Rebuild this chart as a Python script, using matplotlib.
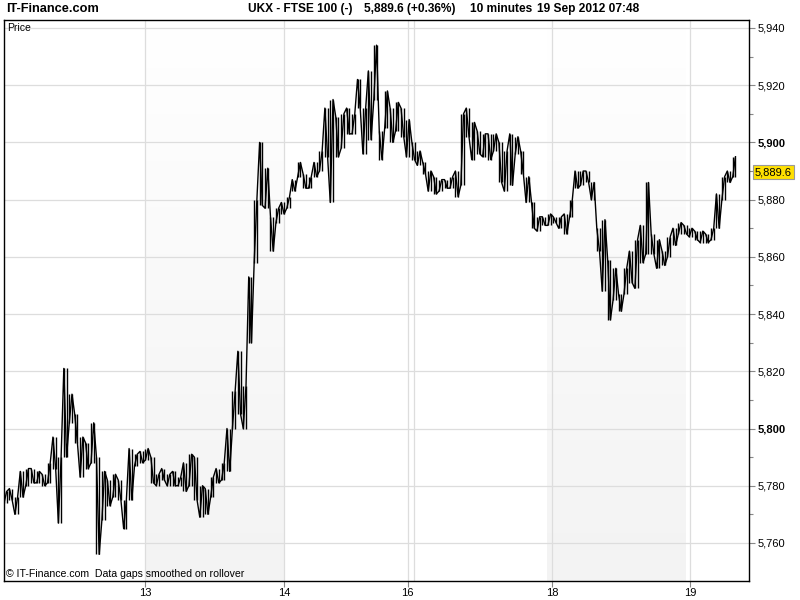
import matplotlib
matplotlib.use("Agg")
import matplotlib.pyplot as plt
import numpy as np
from matplotlib.colors import LinearSegmentedColormap
import matplotlib.transforms as mtransforms

# ---------------- data ----------------
# Each reading covers two 10-minute bars: high / low of that span
highs = [5778, 5779, 5776, 5785, 5786, 5786, 5785, 5784, 5788, 5797,
         5790, 5821, 5812, 5805, 5797, 5795, 5802, 5790, 5785, 5782,
         5784, 5782, 5775, 5793, 5791, 5792, 5793, 5790, 5784, 5786,
         5784, 5785, 5783, 5788, 5791, 5790, 5780, 5779, 5783, 5786,
         5788, 5800, 5813, 5827, 5815, 5853, 5880, 5900, 5891, 5874,
         5877, 5879, 5881, 5887, 5893, 5889, 5888, 5893, 5897, 5912,
         5915, 5909, 5910, 5912, 5910, 5922, 5912, 5925, 5934, 5904,
         5918, 5912, 5914, 5912, 5908, 5900, 5897, 5893, 5890, 5888,
         5887, 5887, 5888, 5890, 5910, 5912, 5907, 5904, 5903, 5903,
         5903, 5900, 5897, 5903, 5902, 5897, 5888, 5879, 5874, 5874,
         5875, 5874, 5874, 5875, 5880, 5890, 5890, 5890, 5886, 5870,
         5873, 5859, 5856, 5847, 5856, 5862, 5866, 5871, 5886, 5868,
         5866, 5862, 5867, 5870, 5872, 5871, 5870, 5869, 5869, 5868,
         5870, 5882, 5888, 5890, 5895]
lows = [5774, 5775, 5770, 5776, 5780, 5781, 5781, 5780, 5781, 5786,
        5767, 5790, 5802, 5795, 5783, 5786, 5788, 5756, 5768, 5773,
        5776, 5775, 5765, 5775, 5787, 5788, 5789, 5781, 5780, 5782,
        5780, 5780, 5780, 5778, 5780, 5775, 5769, 5770, 5776, 5781,
        5782, 5785, 5800, 5805, 5800, 5830, 5858, 5878, 5877, 5862,
        5872, 5875, 5877, 5883, 5888, 5884, 5884, 5888, 5890, 5895,
        5879, 5895, 5898, 5903, 5903, 5912, 5896, 5901, 5915, 5894,
        5905, 5900, 5904, 5902, 5895, 5894, 5892, 5889, 5883, 5882,
        5883, 5884, 5884, 5881, 5885, 5902, 5894, 5896, 5895, 5894,
        5897, 5886, 5883, 5885, 5896, 5889, 5879, 5870, 5869, 5871,
        5871, 5872, 5870, 5868, 5874, 5884, 5885, 5886, 5880, 5862,
        5848, 5838, 5845, 5841, 5847, 5851, 5849, 5858, 5861, 5861,
        5856, 5857, 5860, 5864, 5868, 5868, 5867, 5866, 5865, 5865,
        5866, 5870, 5880, 5886, 5888]
bars_per_reading = 2

# x-axis: positions in 10-minute bars from the start of the chart
day_ticks = [51.8, 102.9, 148.5, 201.5, 252.2]
day_labels = ["13", "14", "16", "18", "19"]
extra_day_lines = [150.7]
shaded_spans = [(51.8, 102.6), (199.6, 250.4)]
x_range = (0.0, 273.9)

y_ticks = [5760, 5780, 5800, 5820, 5840, 5860, 5880, 5900, 5920, 5940]
bold_ticks = [5800, 5900]
y_range = (5746.7, 5942.8)
last_price = 5889.6

site = "IT-Finance.com"
title_parts = ["UKX - FTSE 100 (-)", "5,889.6 (+0.36%)", "10 minutes", "19 Sep 2012 07:48"]
title_px = [248, 364, 470, 537]
footer = "\u00a9 IT-Finance.com  Data gaps smoothed on rollover"
panel_label = "Price"

base = "Liberation Sans"

# ---------------- figure ----------------
fig = plt.figure(figsize=(8, 6), dpi=100)
fig.patch.set_facecolor("white")
ax = fig.add_axes([0.005, 0.0317, 0.931, 0.935])

# day shading (vertical gradient: white at top, light grey at bottom)
grad = np.linspace(0, 1, 256).reshape(-1, 1)
cmap = LinearSegmentedColormap.from_list("band", ["#ffffff", "#f3f3f3"])
for x0, x1 in shaded_spans:
    ax.imshow(grad, extent=[x0, x1, y_range[0], y_range[1]], origin="upper",
              aspect="auto", cmap=cmap, zorder=0, interpolation="bilinear")

# grid
for v in y_ticks:
    ax.axhline(v, color="#dddddd", lw=0.9, zorder=1)
for v in day_ticks + extra_day_lines:
    ax.axvline(v, color="#dddddd", lw=0.9, zorder=1)

# price bars: each 10-minute bar of a span drawn high-low, joined by a zig-zag
bx, bl, bh = [], [], []
xs, ys = [], []
for k, (h, l) in enumerate(zip(highs, lows)):
    x0 = k * bars_per_reading
    for j in range(bars_per_reading):
        bx.append(x0 + j)
        bl.append(l)
        bh.append(h)
    if k % 2 == 0:
        xs += [x0, x0 + 1]
        ys += [l, h]
    else:
        xs += [x0, x0 + 1]
        ys += [h, l]
ax.vlines(bx, bl, bh, color="black", lw=1.0, zorder=3)
ax.plot(xs, ys, color="black", lw=1.0, zorder=3)

ax.set_xlim(*x_range)
ax.set_ylim(*y_range)

# axes styling
for s in ax.spines.values():
    s.set_color("black")
    s.set_linewidth(1.0)

ax.yaxis.tick_right()
ax.set_yticks(y_ticks, labels=[f"{v:,}" for v in y_ticks])
ax.set_yticks([v + 10 for v in y_ticks[:-1]], minor=True)
for lab, v in zip(ax.get_yticklabels(), y_ticks):
    lab.set_fontfamily(base)
    lab.set_fontsize(8)
    if v in bold_ticks:
        lab.set_fontweight("bold")
ax.tick_params(axis="y", which="both", direction="out", color="#888888",
               length=4, width=0.8, pad=2)
ax.tick_params(axis="y", which="minor", length=3)

ax.set_xticks(day_ticks, labels=day_labels)
for lab in ax.get_xticklabels():
    lab.set_fontfamily(base)
    lab.set_fontsize(8)
ax.tick_params(axis="x", direction="out", color="#888888", length=4,
               width=0.8, pad=1)

# last price tag
trans = mtransforms.blended_transform_factory(ax.transAxes, ax.transData)
ax.text(1.008, last_price, f"{last_price:,.1f}", transform=trans,
        ha="left", va="center", fontsize=8, family=base,
        bbox=dict(boxstyle="square,pad=0.2", fc="#ffe000", ec="#999999", lw=0.8),
        zorder=5, clip_on=False)

# texts
fig.text(6 / 800, 1 - 9 / 600, site, ha="left", va="center",
         fontsize=9.2, fontweight="bold", family=base)
for part, px in zip(title_parts, title_px):
    fig.text(px / 800, 1 - 9 / 600, part, ha="left", va="center",
             fontsize=8.6, fontweight="bold", family=base)
ax.text(0.004, 0.995, panel_label, transform=ax.transAxes, ha="left", va="top",
        fontsize=7.5, family=base)
ax.text(0.003, 0.004, footer, transform=ax.transAxes, ha="left", va="bottom",
        fontsize=7.6, family=base, zorder=4)

fig.savefig("out.png", dpi=100)
